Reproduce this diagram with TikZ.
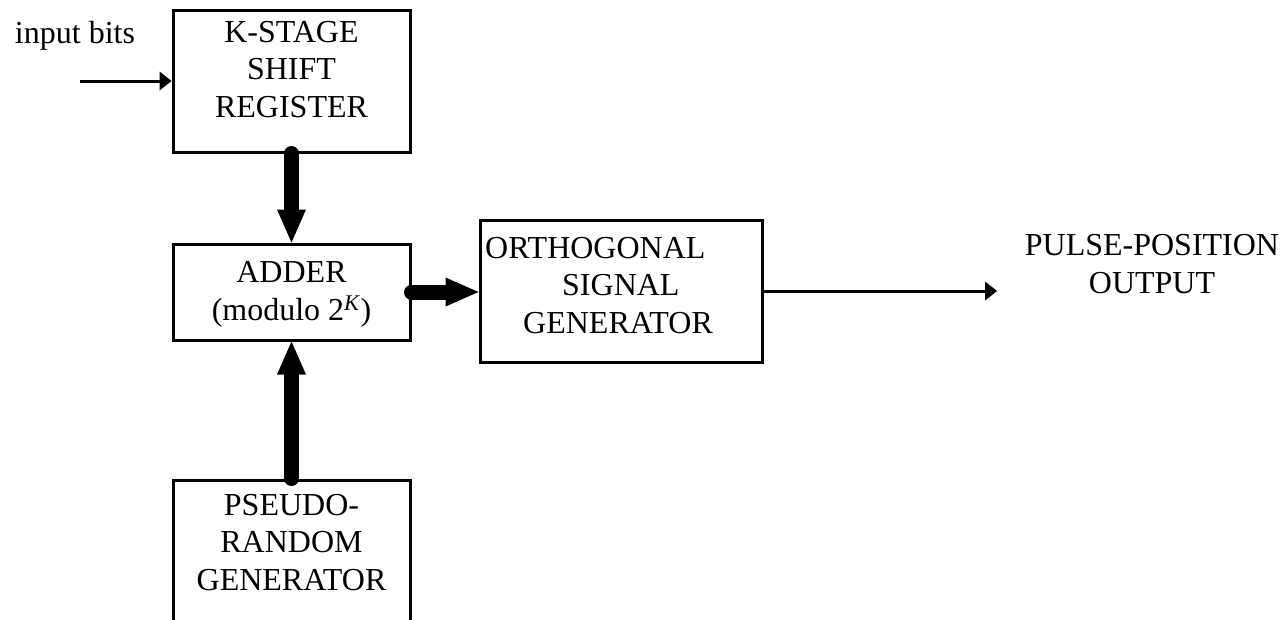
\documentclass[tikz,border=0pt]{standalone}
\usepackage{fontspec}
\setmainfont{Liberation Serif}
\usetikzlibrary{arrows.meta}

\begin{document}
\begin{tikzpicture}[x=1pt,y=-1pt,
		blockbox/.style={draw,line width=3pt,minimum width=237pt,inner sep=0pt},
		lbl/.style={font=\fontsize{32}{37.5}\selectfont,inner sep=0pt,align=center},
		thickarrow/.style={line width=15pt,line cap=round,-{Triangle[width=29pt,length=33pt,line width=0pt]}},
		thinarrow/.style={line width=3pt,-{Triangle[width=19pt,length=12pt,line width=0pt]}}]
		\useasboundingbox (0,0) rectangle (1285,619);
		\clip (0,0) rectangle (1285,619);

		% blocks
		\node[blockbox,minimum height=142pt] (shift) at (291.5,81) {};
		\node[blockbox,minimum height=96pt] (adder) at (291.5,292) {};
		\node[blockbox,minimum height=170pt] (pseudo) at (291.5,565) {};
		\node[blockbox,minimum width=282pt,minimum height=142pt] (ortho) at (621,291) {};

		% texts (anchored at the baseline of the last line)
		\node[lbl,anchor=base] (shifttxt) at (291.5,117) {K-STAGE\\SHIFT\\REGISTER};
		\node[lbl,anchor=base] (addertxt) at (291.5,320) {ADDER\\(modulo 2\textsuperscript{\textit{K}})};
		\node[lbl,anchor=base] (pseudotxt) at (291.5,590) {PSEUDO-\\RANDOM\\GENERATOR};
		\node[lbl,anchor=base west,align=left] (orthotxt) at (485,333) {ORTHOGONAL\\\hspace*{77pt}SIGNAL\\\hspace*{38pt}GENERATOR};
		\node[lbl,anchor=base] (inputtxt) at (75,43) {input bits};
		\node[lbl,anchor=base] (outtxt) at (1152,293) {PULSE-POSITION\\OUTPUT};

		% connectors
		\coordinate (instart) at (80,81);
		\coordinate (outend) at (997,291);
		\draw[thinarrow] (instart) -- (shift.west);
		\draw[thickarrow] (shift.south) -- (adder.north);
		\draw[thickarrow] (pseudo.north) -- (adder.south);
		\draw[thickarrow] (adder.east) -- (adder.east -| ortho.west);
		\draw[thinarrow] (ortho.east) -- (outend);
	\end{tikzpicture}
\end{document}
